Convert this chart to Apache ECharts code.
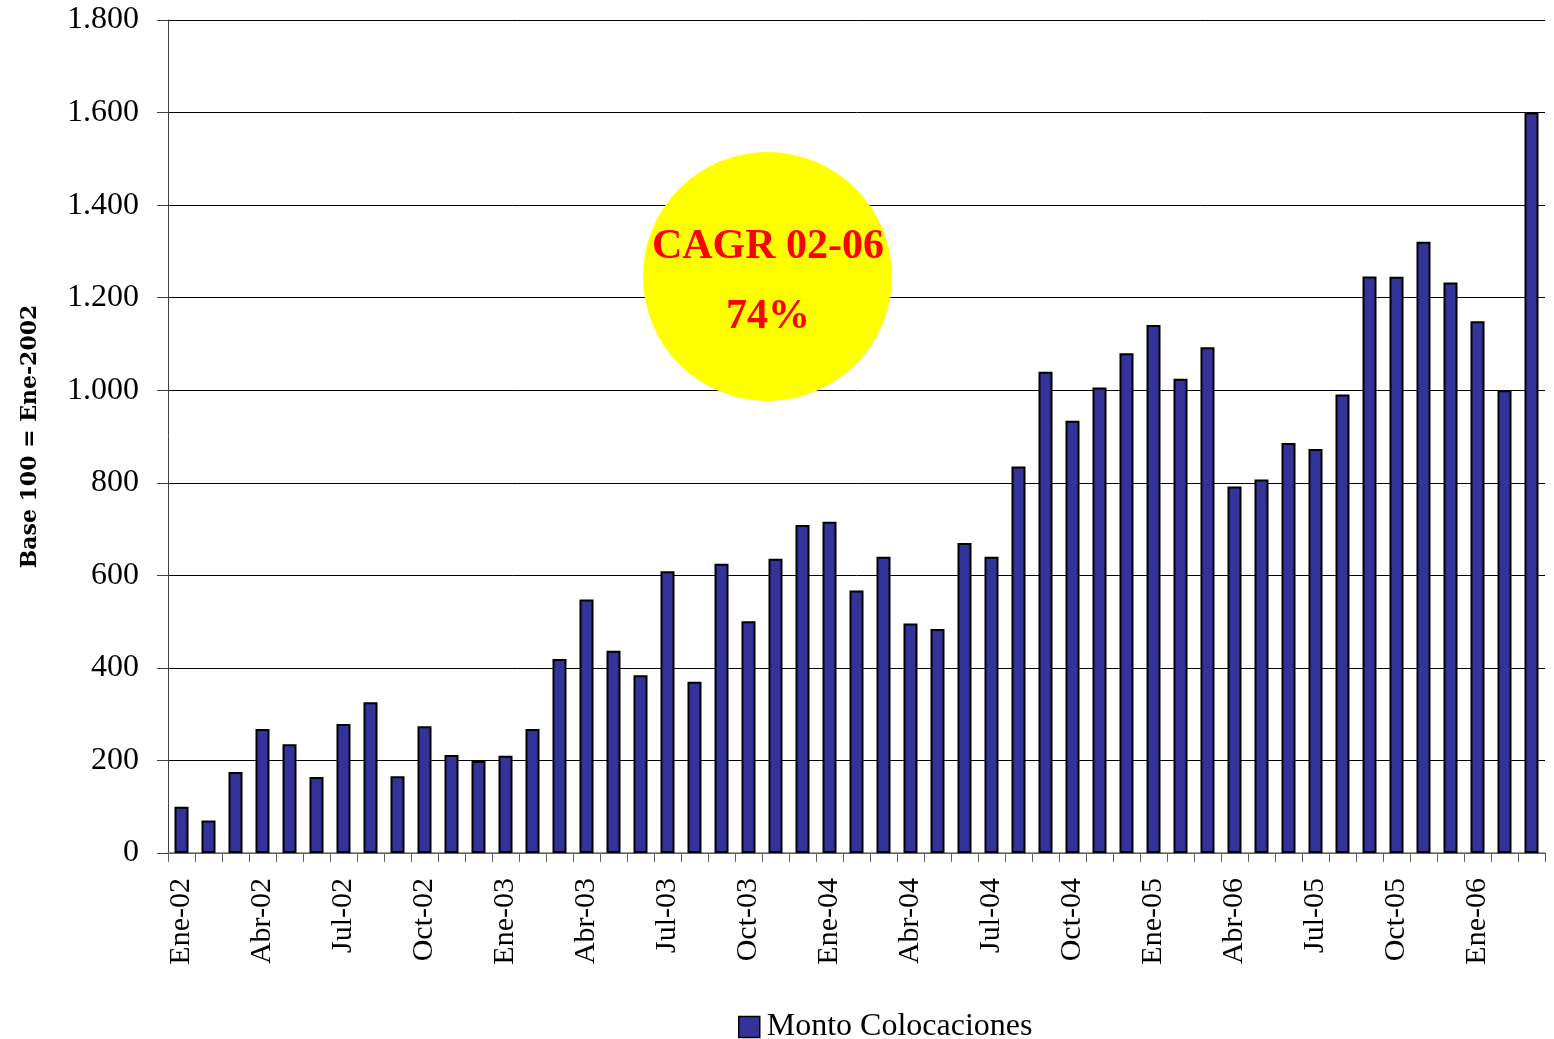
<!DOCTYPE html>
<html>
<head>
<meta charset="utf-8">
<script src="https://cdn.jsdelivr.net/npm/echarts@6/dist/echarts.min.js"></script>
<style>
html,body{margin:0;padding:0;background:#fff;}
#chart{width:1554px;height:1039px;}
</style>
</head>
<body>
<div id="chart"></div>
<script>
// Categories (monthly, Ene-02 .. Mar-06); label at index 39 reads "Abr-06" in the original
const categories = [
  'Ene-02','Feb-02','Mar-02','Abr-02','May-02','Jun-02','Jul-02','Ago-02','Sep-02','Oct-02','Nov-02','Dic-02',
  'Ene-03','Feb-03','Mar-03','Abr-03','May-03','Jun-03','Jul-03','Ago-03','Sep-03','Oct-03','Nov-03','Dic-03',
  'Ene-04','Feb-04','Mar-04','Abr-04','May-04','Jun-04','Jul-04','Ago-04','Sep-04','Oct-04','Nov-04','Dic-04',
  'Ene-05','Feb-05','Mar-05','Abr-06','May-05','Jun-05','Jul-05','Ago-05','Sep-05','Oct-05','Nov-05','Dic-05',
  'Ene-06','Feb-06','Mar-06'
];
const montoColocaciones = [
  100,70,175,268,235,164,279,326,166,274,212,199,
  210,268,419,548,437,384,609,370,625,501,636,709,
  716,567,640,496,484,670,640,835,1040,934,1006,1080,
  1141,1025,1093,792,807,886,873,991,1246,1245,1321,1233,
  1149,1000,1600
];
const seriesName = 'Monto Colocaciones';
const yAxisTitle = 'Base 100 = Ene-2002';
const calloutLines = ['CAGR 02-06', '74%'];
const yTicks = { min: 0, max: 1800, interval: 200 };

const serif = "'Liberation Serif', 'Times New Roman', serif";
const chart = echarts.init(document.getElementById('chart'));

function fmtThousands(v) {
  return String(v).replace(/\B(?=(\d{3})+(?!\d))/g, '.');
}

chart.setOption({
  animation: false,
  backgroundColor: '#ffffff',
  grid: { left: 168, right: 9, top: 20, bottom: 186, containLabel: false },
  legend: {
    data: [seriesName],
    left: 738,
    top: 1011,
    padding: 0,
    itemWidth: 21,
    itemHeight: 21,
    itemGap: 7,
    icon: 'rect',
    itemStyle: { color: '#333399', borderColor: '#000', borderWidth: 1.5 },
    textStyle: { fontFamily: serif, fontSize: 32, color: '#000', padding: [0, 0, 0, 2] }
  },
  xAxis: {
    type: 'category',
    data: categories,
    boundaryGap: true,
    axisLine: { show: true, lineStyle: { color: '#808080', width: 1.5 } },
    axisTick: { show: true, interval: 0, length: 9, alignWithLabel: false, lineStyle: { color: '#606060', width: 1 } },
    axisLabel: {
      interval: 2,
      rotate: 90,
      margin: 25,
      fontFamily: serif,
      fontSize: 30,
      color: '#000'
    },
    splitLine: { show: false }
  },
  yAxis: {
    type: 'value',
    min: yTicks.min,
    max: yTicks.max,
    interval: yTicks.interval,
    name: yAxisTitle,
    nameLocation: 'middle',
    nameRotate: 90,
    nameGap: 127,
    nameTextStyle: { fontFamily: "'DejaVu Serif', serif", fontWeight: 'bold', fontSize: 22, color: '#000' },
    axisLine: { show: true, lineStyle: { color: '#404040', width: 1 } },
    axisTick: { show: true, length: 11, lineStyle: { color: '#404040', width: 1 } },
    axisLabel: {
      margin: 29,
      fontFamily: serif,
      fontSize: 32,
      color: '#000',
      formatter: fmtThousands
    },
    splitLine: { show: true, lineStyle: { color: '#000', width: 1 } }
  },
  series: [{
    name: seriesName,
    type: 'bar',
    data: montoColocaciones,
    barWidth: 14,
    itemStyle: { color: '#333399', borderColor: '#000', borderWidth: 2 }
  }],
  graphic: [
    {
      type: 'circle',
      shape: { cx: 767.5, cy: 276.5, r: 124.5 },
      style: { fill: '#FFFF00', stroke: null },
      z: 100
    },
    {
      type: 'text',
      x: 768, y: 247,
      style: {
        text: calloutLines[0],
        fill: '#FF0000',
        font: "bold 42px 'Liberation Serif', serif",
        align: 'center',
        verticalAlign: 'middle'
      },
      z: 101
    },
    {
      type: 'text',
      x: 768, y: 317,
      style: {
        text: calloutLines[1],
        fill: '#FF0000',
        font: "bold 42px 'Liberation Serif', serif",
        align: 'center',
        verticalAlign: 'middle'
      },
      z: 101
    }
  ]
});
</script>
</body>
</html>
